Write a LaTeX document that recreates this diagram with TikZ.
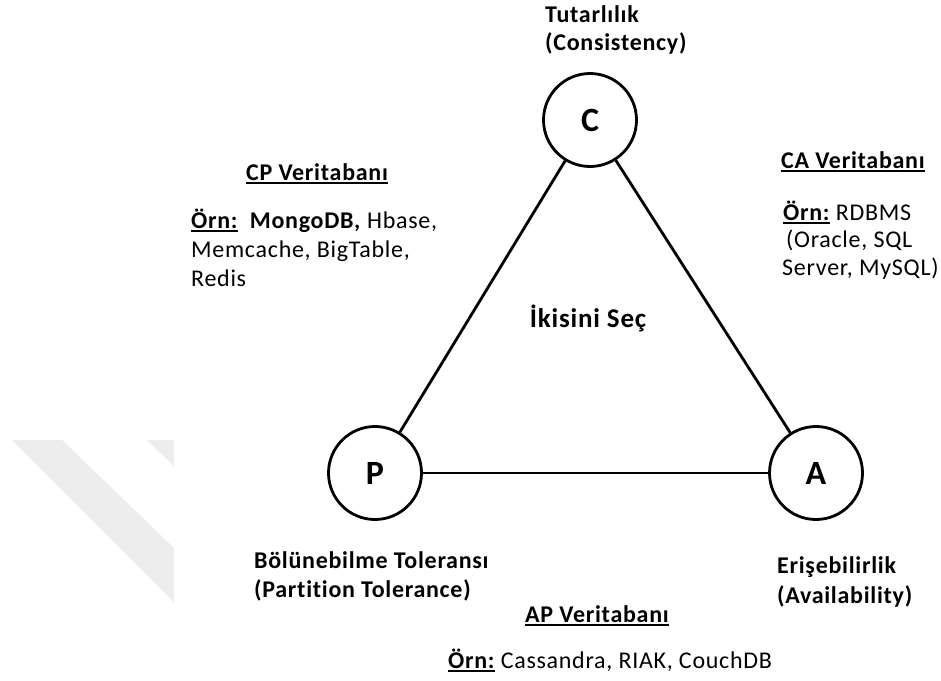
\documentclass[tikz,border=0pt]{standalone}
\usepackage{fontspec}
\setmainfont{Carlito}[LetterSpace=3,Ligatures=NoCommon]
\newcommand\uln[1]{\setbox0\hbox{#1}\rlap{\rule[-3.5pt]{\wd0}{1.8pt}}\box0}
\begin{document}
\begin{tikzpicture}[x=1pt,y=-1pt,
  txt/.style={inner sep=0, anchor=base west, font=\fontsize{24}{29}\selectfont},
  btxt/.style={txt, font=\fontsize{24}{29}\selectfont\bfseries},
  circ/.style={circle, draw, line width=2.8pt, minimum size=93pt, inner sep=0,
    font=\fontsize{34}{36}\selectfont\bfseries},
  edge/.style={line width=2.8pt}]
\useasboundingbox (0,0) rectangle (941,680);
\fill[white] (0,0) rectangle (941,680);
% watermark
\fill[gray!14] (12,440) -- (62,440) -- (174,548) -- (174,602) -- cycle;
\fill[gray!14] (147,440) -- (174,440) -- (174,466) -- cycle;
% vertices
\node[circ] (C) at (590,120) {C};
\node[circ] (P) at (375,473) {P};
\node[circ] (A) at (816,473) {A};
\draw[edge] (C) -- (P);
\draw[edge] (C) -- (A);
\draw[edge] (P) -- (A);
% labels
\node[btxt] (c1) at (545,22) {Tutarlılık};
\node[btxt] (c2) at (545,50) {(Consistency)};
\node[btxt] (p1) at (254,568) {Bölünebilme Toleransı};
\node[btxt] (p2) at (254,597) {(Partition Tolerance)};
\node[btxt] (a1) at (777,573) {Erişebilirlik};
\node[btxt] (a2) at (777,603) {(Availability)};
\node[btxt, anchor=base] (mid) at (588,327) {\fontsize{27}{30}\selectfont İkisini Seç};
% CP
\node[btxt] (cpt) at (246,180) {\uln{CP Veritabanı}};
\node[txt] (cp1) at (191,228) {\textbf{\uln{Örn:}}\ \ \textbf{MongoDB,} Hbase,};
\node[txt] (cp2) at (191,257) {Memcache, BigTable,};
\node[txt] (cp3) at (191,286) {Redis};
% CA
\node[btxt] (cat) at (781,168) {\uln{CA Veritabanı}};
\node[txt] (ca1) at (783,220) {\textbf{\uln{Örn:}} RDBMS};
\node[txt] (ca2) at (786,247) {(Oracle, SQL};
\node[txt] (ca3) at (782,275) {Server, MySQL)};
% AP
\node[btxt] (apt) at (525,622) {\uln{AP Veritabanı}};
\node[txt] (ap1) at (448,668) {\textbf{\uln{Örn:}} Cassandra, RIAK, CouchDB};
\end{tikzpicture}
\end{document}
